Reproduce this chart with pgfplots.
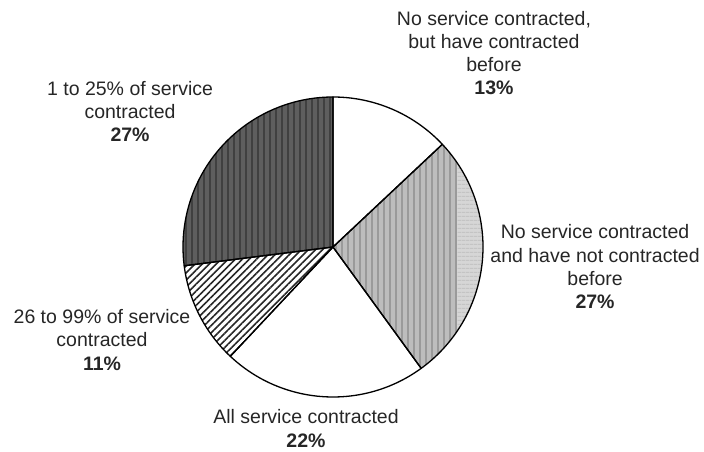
\documentclass[border=0pt]{standalone}
\usepackage{pgfplots}
\pgfplotsset{compat=1.18}
\usepackage{pgfplotstable}
\usepackage{fontspec}
\setmainfont{Liberation Sans}
\usetikzlibrary{patterns.meta}
\definecolor{darkbase}{HTML}{5E5E5E}
\definecolor{darkstripe}{HTML}{404040}
\definecolor{graybase}{HTML}{BDBDBD}
\definecolor{graystripe}{HTML}{9A9A9A}
\definecolor{lightpart}{HTML}{D6D6D6}
\definecolor{lightstripe}{HTML}{C4C4C4}
\tikzset{lbl/.style={font=\fontsize{19.5}{23.3}\selectfont, align=center, inner sep=0pt, text=black!85}}

% percentages, clockwise from 12 o'clock
\pgfplotstableread{
start pct
0  13
13 27
40 22
62 11
73 27
}\piedata

\newcommand{\slicepath}[2]{%
  (axis cs:0,0) -- (axis cs:{cos(90-3.6*#1)},{sin(90-3.6*#1)})
  arc[start angle={90-3.6*#1}, end angle={90-3.6*(#1+#2)}, radius=150pt] -- cycle}

\begin{document}
\begin{tikzpicture}
\begin{axis}[
  scale only axis, width=704pt, height=452pt,
  xmin=-2.22, xmax=2.4733, ymin=-1.3667, ymax=1.6467,
  hide axis, clip=false,
]
\pgfplotstablegetelem{0}{start}\of\piedata\let\sA\pgfplotsretval
\pgfplotstablegetelem{0}{pct}\of\piedata\let\pA\pgfplotsretval
\pgfplotstablegetelem{1}{start}\of\piedata\let\sB\pgfplotsretval
\pgfplotstablegetelem{1}{pct}\of\piedata\let\pB\pgfplotsretval
\pgfplotstablegetelem{2}{start}\of\piedata\let\sC\pgfplotsretval
\pgfplotstablegetelem{2}{pct}\of\piedata\let\pC\pgfplotsretval
\pgfplotstablegetelem{3}{start}\of\piedata\let\sD\pgfplotsretval
\pgfplotstablegetelem{3}{pct}\of\piedata\let\pD\pgfplotsretval
\pgfplotstablegetelem{4}{start}\of\piedata\let\sE\pgfplotsretval
\pgfplotstablegetelem{4}{pct}\of\piedata\let\pE\pgfplotsretval

% slice 1: white
\fill[white] \slicepath{\sA}{\pA};
% slice 2: gray vertical stripes
\fill[graybase] \slicepath{\sB}{\pB};
\fill[pattern={Lines[angle=90,distance=6pt,line width=2.5pt]}, pattern color=graystripe] \slicepath{\sB}{\pB};
\begin{scope}
  \clip \slicepath{\sB}{\pB};
  \fill[lightpart] (axis cs:0.827,-1.1) rectangle (axis cs:1.1,1.1);
  \fill[pattern={Lines[angle=0,distance=4pt,line width=1pt]}, pattern color=lightstripe] (axis cs:0.827,-1.1) rectangle (axis cs:1.1,1.1);
\end{scope}
% slice 3: white
\fill[white] \slicepath{\sC}{\pC};
% slice 4: diagonal hatching
\fill[white] \slicepath{\sD}{\pD};
\fill[pattern={Lines[angle=45,distance=5pt,line width=1.6pt]}, pattern color=black!85] \slicepath{\sD}{\pD};
% slice 5: dark vertical stripes
\fill[darkbase] \slicepath{\sE}{\pE};
\fill[pattern={Lines[angle=90,distance=6pt,line width=2.5pt]}, pattern color=darkstripe] \slicepath{\sE}{\pE};

% outlines
\draw[line width=1.3pt, line join=round] \slicepath{\sA}{\pA};
\draw[line width=1.3pt, line join=round] \slicepath{\sB}{\pB};
\draw[line width=1.3pt, line join=round] \slicepath{\sC}{\pC};
\draw[line width=1.3pt, line join=round] \slicepath{\sD}{\pD};
\draw[line width=1.3pt, line join=round] \slicepath{\sE}{\pE};

% labels
\node[lbl] at (axis cs:1.073,1.293) {No service contracted,\\but have contracted\\before\\\textbf{13\%}};
\node[lbl] at (axis cs:1.747,-0.133) {No service contracted\\and have not contracted\\before\\\textbf{27\%}};
\node[lbl] at (axis cs:-1.353,0.903) {1 to 25\% of service\\contracted\\\textbf{27\%}};
\node[lbl] at (axis cs:-1.54,-0.62) {26 to 99\% of service\\contracted\\\textbf{11\%}};
\node[lbl] at (axis cs:-0.18,-1.21) {All service contracted\\\textbf{22\%}};
\end{axis}
\pgfresetboundingbox
\path[use as bounding box] (current axis.south west) rectangle (current axis.north east);
\end{tikzpicture}
\end{document}
